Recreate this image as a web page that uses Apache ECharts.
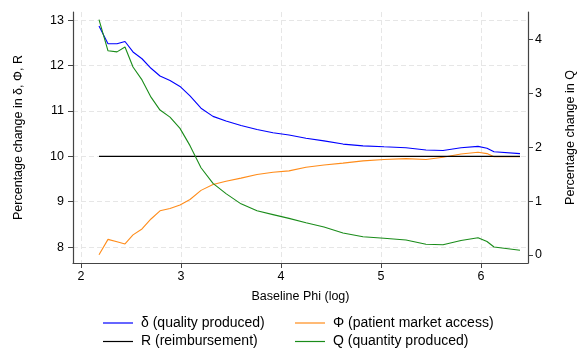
<!DOCTYPE html>
<html>
<head>
<meta charset="utf-8">
<script src="https://cdn.jsdelivr.net/npm/echarts@6/dist/echarts.min.js"></script>
<style>
  html, body { margin: 0; padding: 0; background: #fff; }
  #chart { width: 579px; height: 350px; }
</style>
</head>
<body>
<div id="chart"></div>
<script>
// Baseline Phi (log) grid shared by every curve
const baselinePhi = [2.18, 2.27, 2.36, 2.44, 2.52, 2.61, 2.70, 2.79, 2.89, 2.99, 3.09, 3.20, 3.32, 3.45, 3.60, 3.76, 3.92, 4.08, 4.25, 4.43, 4.62, 4.82, 5.03, 5.25, 5.45, 5.62, 5.80, 5.97, 6.06, 6.13, 6.39];

// Percentage change in delta (quality produced) - left axis
const deltaQuality = [12.87, 12.48, 12.48, 12.53, 12.30, 12.15, 11.94, 11.77, 11.67, 11.54, 11.33, 11.06, 10.88, 10.78, 10.68, 10.59, 10.52, 10.47, 10.40, 10.34, 10.27, 10.23, 10.21, 10.19, 10.14, 10.13, 10.19, 10.22, 10.18, 10.10, 10.06];

// Percentage change in Phi (patient market access) - left axis
const phiAccess = [7.83, 8.17, 8.12, 8.07, 8.27, 8.40, 8.62, 8.80, 8.85, 8.93, 9.05, 9.25, 9.38, 9.45, 9.52, 9.60, 9.65, 9.68, 9.76, 9.81, 9.85, 9.90, 9.93, 9.95, 9.93, 9.98, 10.05, 10.09, 10.06, 9.99, 9.99];

// Percentage change in R (reimbursement) - left axis
const rReimb = [10, 10, 10, 10, 10, 10, 10, 10, 10, 10, 10, 10, 10, 10, 10, 10, 10, 10, 10, 10, 10, 10, 10, 10, 10, 10, 10, 10, 10, 10, 10];

// Percentage change in Q (quantity produced) - right axis
const qQuantity = [4.37, 3.79, 3.77, 3.86, 3.49, 3.25, 2.93, 2.69, 2.56, 2.35, 2.03, 1.62, 1.33, 1.14, 0.95, 0.82, 0.75, 0.68, 0.60, 0.52, 0.41, 0.34, 0.31, 0.28, 0.20, 0.19, 0.27, 0.32, 0.25, 0.15, 0.09];

// Tick values for each axis
const xTicks = [2, 3, 4, 5, 6];
const leftTicks = [8, 9, 10, 11, 12, 13];
const rightTicks = [0, 1, 2, 3, 4];

const seriesNames = ['δ (quality produced)', 'Φ (patient market access)', 'R (reimbursement)', 'Q (quantity produced)'];

const pairs = ys => baselinePhi.map((x, i) => [x, ys[i]]);

const FONT = 'Liberation Sans, Arial, sans-serif';
const axisLineStyle = { color: '#444', width: 1.2 };
const gridLine = { show: true, lineStyle: { color: '#e6e6e6', width: 1, type: [5, 3] } };

const chart = echarts.init(document.getElementById('chart'), null, { renderer: 'canvas' });

const lineSeries = (name, ys, color, axis) => ({
  name: name,
  type: 'line',
  yAxisIndex: axis,
  data: pairs(ys),
  symbol: 'none',
  smooth: false,
  lineStyle: { color: color, width: 1.1 },
  itemStyle: { color: color },
  animation: false,
  z: 3
});

// One legend entry per box: two columns, two rows
const legendItem = (name, left, top) => ({
  left: left,
  top: top,
  padding: 0,
  icon: 'rect',
  itemWidth: 30,
  itemHeight: 1.2,
  textStyle: { fontFamily: FONT, fontSize: 14, color: '#000', lineHeight: 16, padding: [0, 0, 0, 3] },
  selectedMode: false,
  data: [name]
});

chart.setOption({
  backgroundColor: '#fff',
  animation: false,
  grid: { left: 73, right: 51, top: 12, bottom: 87, outerBoundsMode: 'none', containLabel: false },
  legend: [
    legendItem(seriesNames[0], 103, 315),
    legendItem(seriesNames[2], 103, 333.5),
    legendItem(seriesNames[1], 295, 315),
    legendItem(seriesNames[3], 295, 333.5)
  ],
  xAxis: {
    type: 'value',
    min: 1.92,
    max: 6.47,
    name: 'Baseline Phi (log)',
    nameLocation: 'middle',
    nameGap: 27,
    nameTextStyle: { fontFamily: FONT, fontSize: 12.5, color: '#000' },
    axisLine: { show: true, onZero: false, lineStyle: axisLineStyle },
    axisTick: { show: true, length: 5, customValues: xTicks, lineStyle: { color: '#444' } },
    axisLabel: { customValues: xTicks, fontFamily: FONT, fontSize: 12.5, color: '#000', margin: 7 },
    splitLine: gridLine
  },
  yAxis: [
    {
      type: 'value',
      position: 'left',
      min: 7.65,
      max: 13.18,
      name: 'Percentage change in δ, Φ, R',
      nameLocation: 'middle',
      nameGap: 48,
      nameTextStyle: { fontFamily: FONT, fontSize: 12.5, color: '#000' },
      axisLine: { show: true, onZero: false, lineStyle: axisLineStyle },
      axisTick: { show: true, length: 5, customValues: leftTicks, lineStyle: { color: '#444' } },
      axisLabel: { customValues: leftTicks, fontFamily: FONT, fontSize: 12.5, color: '#000', margin: 9 },
      splitLine: gridLine
    },
    {
      type: 'value',
      position: 'right',
      min: -0.148,
      max: 4.51,
      name: 'Percentage change in Q',
      nameLocation: 'middle',
      nameGap: 36,
      nameTextStyle: { fontFamily: FONT, fontSize: 12.5, color: '#000' },
      axisLine: { show: true, onZero: false, lineStyle: axisLineStyle },
      axisTick: { show: true, length: 5, customValues: rightTicks, lineStyle: { color: '#444' } },
      axisLabel: { customValues: rightTicks, fontFamily: FONT, fontSize: 12.5, color: '#000', margin: 7 },
      splitLine: { show: false }
    }
  ],
  series: [
    lineSeries(seriesNames[0], deltaQuality, '#0000ff', 0),
    lineSeries(seriesNames[1], phiAccess, '#ff8c1a', 0),
    lineSeries(seriesNames[2], rReimb, '#000000', 0),
    lineSeries(seriesNames[3], qQuantity, '#1a8c1a', 1)
  ]
});
</script>
</body>
</html>
